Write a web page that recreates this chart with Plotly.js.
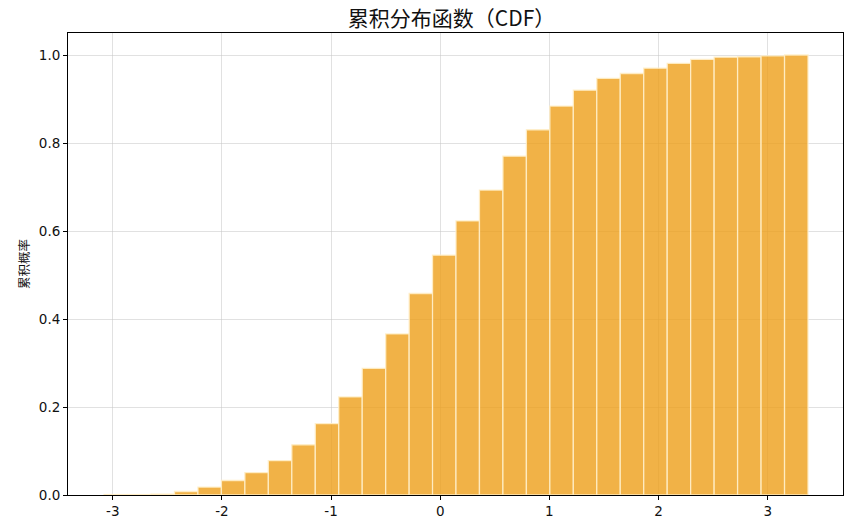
<!DOCTYPE html>
<html>
<head>
<meta charset="utf-8">
<script src="https://cdn.plot.ly/plotly-3.0.1.min.js"></script>
<style>
  html, body { margin: 0; padding: 0; background: #fff; }
  #myDiv { width: 865px; height: 523px; }
</style>
</head>
<body>
<div id="myDiv"></div>
<script>
// bin centres of the cumulative histogram (30 bins, width ~0.215)
var binCenters = [-2.972, -2.757, -2.542, -2.327, -2.112, -1.897, -1.682, -1.467, -1.252, -1.037,
                  -0.822, -0.607, -0.392, -0.177, 0.037, 0.252, 0.467, 0.682, 0.897, 1.112,
                  1.327, 1.542, 1.757, 1.972, 2.187, 2.402, 2.617, 2.832, 3.047, 3.262];
// cumulative probability for each bin
var cdfValues = [0.001, 0.001, 0.002, 0.008, 0.018, 0.033, 0.051, 0.078, 0.114, 0.162,
                 0.223, 0.288, 0.366, 0.458, 0.545, 0.623, 0.693, 0.770, 0.830, 0.884,
                 0.920, 0.947, 0.958, 0.970, 0.981, 0.990, 0.995, 0.996, 0.998, 1.000];
var binWidth = 0.215;

var xTickVals = [-3, -2, -1, 0, 1, 2, 3];
var xTickText = ['-3', '-2', '-1', '0', '1', '2', '3'];
var yTickVals = [0, 0.2, 0.4, 0.6, 0.8, 1.0];
var yTickText = ['0.0', '0.2', '0.4', '0.6', '0.8', '1.0'];

var trace1 = {
  x: binCenters,
  y: cdfValues,
  width: binWidth,
  type: 'bar',
  marker: {
    color: 'rgba(238,159,25,0.8)',
    line: {color: 'rgba(255,238,200,0.9)', width: 1.3}
  },
  hoverinfo: 'x+y'
};

var tickFont = {family: 'DejaVu Sans, sans-serif', size: 13.5, color: '#111'};

var layout = {
  width: 865,
  height: 523,
  margin: {l: 68, r: 22, t: 33, b: 28},
  paper_bgcolor: '#fff',
  plot_bgcolor: '#fff',
  showlegend: false,
  bargap: 0,
  title: {
    text: '累积分布函数（CDF）',
    font: {family: 'Noto Sans CJK SC, sans-serif', size: 21, color: '#111'},
    x: 0.522,
    xanchor: 'center',
    y: 0.965,
    yanchor: 'middle'
  },
  xaxis: {
    range: [-3.41, 3.69],
    tickvals: xTickVals,
    ticktext: xTickText,
    ticks: 'outside',
    ticklen: 4,
    tickcolor: '#000',
    tickfont: tickFont,
    showline: true,
    mirror: true,
    linecolor: '#000',
    linewidth: 1,
    showgrid: true,
    gridcolor: 'rgba(200,200,200,0.55)',
    gridwidth: 1,
    zeroline: false
  },
  yaxis: {
    range: [0, 1.05],
    tickvals: yTickVals,
    ticktext: yTickText,
    ticks: 'outside',
    ticklen: 4,
    tickcolor: '#000',
    tickfont: tickFont,
    showline: true,
    mirror: true,
    linecolor: '#000',
    linewidth: 1,
    showgrid: true,
    gridcolor: 'rgba(200,200,200,0.55)',
    gridwidth: 1,
    zeroline: false,
    title: {
      text: '累积概率',
      font: {family: 'Noto Sans CJK SC, sans-serif', size: 12.5, color: '#111'},
      standoff: 6
    }
  }
};

Plotly.newPlot('myDiv', [trace1], layout, {staticPlot: true});
</script>
</body>
</html>
